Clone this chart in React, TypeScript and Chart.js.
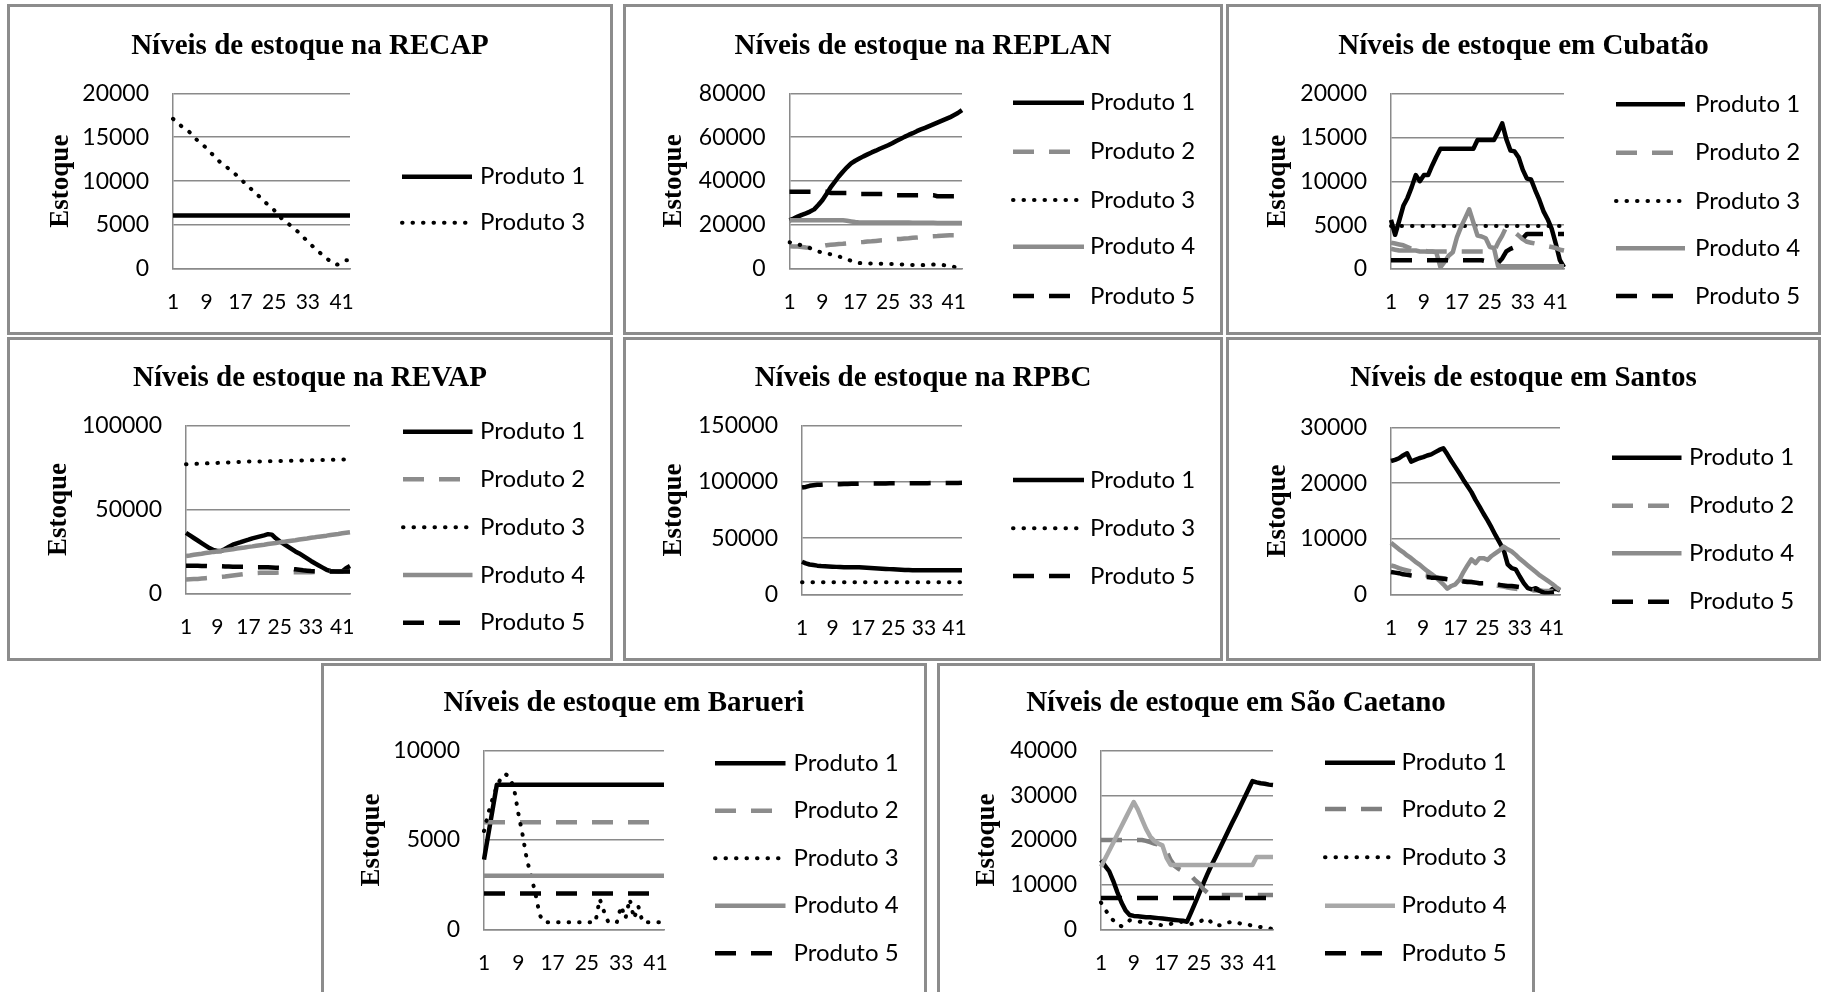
import React, { useEffect, useRef } from 'react';
import { Chart, registerables } from 'chart.js';

Chart.register(...registerables);

// ---------------- DATA ----------------
const periods = [
  '1', '2', '3', '4', '5', '6', '7', '8', '9', '10',
  '11', '12', '13', '14', '15', '16', '17', '18', '19', '20',
  '21', '22', '23', '24', '25', '26', '27', '28', '29', '30',
  '31', '32', '33', '34', '35', '36', '37', '38', '39', '40',
  '41', '42', '43',
];
const xTickLabels = ['1', '9', '17', '25', '33', '41'];

const panelTitles = [
  'Níveis de estoque na RECAP',
  'Níveis de estoque na REPLAN',
  'Níveis de estoque em Cubatão',
  'Níveis de estoque na REVAP',
  'Níveis de estoque na RPBC',
  'Níveis de estoque em Santos',
  'Níveis de estoque em Barueri',
  'Níveis de estoque em São Caetano',
];
const yAxisTitle = 'Estoque';
const yAxisMax = [20000, 80000, 20000, 100000, 150000, 30000, 10000, 40000];
const yAxisStep = [5000, 20000, 5000, 50000, 50000, 10000, 5000, 10000];

// RECAP
const recapProduto1 = [
  6100, 6100, 6100, 6100, 6100, 6100, 6100, 6100, 6100, 6100,
  6100, 6100, 6100, 6100, 6100, 6100, 6100, 6100, 6100, 6100,
  6100, 6100, 6100, 6100, 6100, 6100, 6100, 6100, 6100, 6100,
  6100, 6100, 6100, 6100, 6100, 6100, 6100, 6100, 6100, 6100,
  6100, 6100, 6100,
];
const recapProduto3 = [
  17100, 16700, 16250, 15900, 15550, 15000, 14550, 14200, 13700, 13200,
  12800, 12250, 11850, 11500, 11150, 10700, 10250, 9800, 9350, 8900,
  8450, 8050, 7550, 7150, 6700, 6100, 5650, 5300, 4900, 4500,
  4100, 3600, 3100, 2650, 2200, 1800, 1400, 1000, 600, 500,
  800, 1000, 1000,
];

// REPLAN
const replanProduto1 = [
  22000, 22800, 23700, 24500, 25200, 26000, 27000, 29000, 31200, 34000,
  37000, 39500, 42000, 44200, 46200, 48000, 49200, 50200, 51200, 52100,
  53000, 53800, 54700, 55500, 56300, 57200, 58200, 59100, 60100, 61000,
  61800, 62700, 63500, 64200, 65000, 65800, 66600, 67400, 68200, 69000,
  70000, 71000, 72300,
];
const replanProduto2 = [
  10200, 10100, 10000, 9800, 9600, 9500, 9500, 9800, 10200, 10600,
  10800, 11000, 11200, 11300, 11500, 11700, 11800, 12000, 12100, 12300,
  12400, 12600, 12800, 12900, 13100, 13200, 13400, 13500, 13700, 13800,
  14000, 14100, 14300, 14400, 14600, 14700, 14800, 15000, 15100, 15200,
  15200, 15300, 15300,
];
const replanProduto3 = [
  12000, 11500, 11000, 10600, 10000, 9300, 8500, 7800, 7200, 6800,
  6500, 6000, 5500, 5000, 4300, 3500, 2800, 2500, 2400, 2300,
  2300, 2200, 2200, 2100, 2000, 2000, 1950, 1900, 1800, 1700,
  1600, 1500, 1500, 1600, 1700, 1800, 1700, 1600, 1500, 1200,
  800, 300, 0,
];
const replanProduto4 = [
  22000, 22000, 22000, 22000, 22000, 22000, 22000, 22000, 22000, 22000,
  22000, 22000, 22000, 22000, 21800, 21500, 21200, 21000, 21000, 21000,
  21000, 21000, 21000, 21000, 21000, 21000, 21000, 21000, 21000, 21000,
  20900, 20900, 20900, 20900, 20900, 20900, 20800, 20800, 20800, 20800,
  20800, 20800, 20800,
];
const replanProduto5 = [
  35000, 35000, 35000, 35000, 35000, 35000, 35000, 35000, 35000, 35000,
  34500, 34500, 34500, 34500, 34500, 34000, 34000, 34000, 34000, 34000,
  34000, 34000, 34000, 34000, 34000, 34000, 33500, 33500, 33500, 33500,
  33500, 33500, 33500, 33500, 33500, 33500, 33000, 33000, 33000, 33000,
  33000, 33000, 33000,
];

// Cubatão
const cubataoProduto1 = [
  5600, 3900, 5500, 7200, 8100, 9300, 10700, 10000, 10700, 10700,
  11800, 12800, 13700, 13700, 13700, 13700, 13700, 13700, 13700, 13700,
  13700, 14700, 14700, 14700, 14700, 14700, 15600, 16600, 14800, 13500,
  13400, 12700, 11300, 10300, 10200, 9000, 7900, 6600, 5700, 4600,
  2900, 1000, 200,
];
const cubataoProduto2 = [
  3000, 2900, 2800, 2700, 2500, 2300, 2200, 2100, 2100, 2000,
  2000, 2000, 2000, 2000, 2000, 2000, 2000, 2000, 2000, 2000,
  2000, 2000, 2000, 2000, 2000, 2000, 3000, 3800, 4800, 4500,
  4200, 3800, 3400, 3100, 3000, 2900, 2800, 2700, 2600, 2500,
  2400, 2200, 2100,
];
const cubataoProduto3 = [
  4900, 4900, 4900, 4900, 4900, 4900, 4900, 4900, 4900, 4900,
  4900, 4900, 4900, 4900, 4900, 4900, 4900, 4900, 4900, 4900,
  4900, 4900, 4900, 4900, 4900, 4900, 4900, 4900, 4900, 4900,
  4900, 4900, 4900, 4900, 4900, 4900, 4900, 4900, 4900, 4900,
  4900, 4900, 4900,
];
const cubataoProduto4 = [
  2300, 2200, 2100, 2100, 2100, 2100, 2100, 2000, 2000, 2000,
  2000, 1900, 200, 800, 1500, 1900, 3600, 4800, 5800, 6800,
  5300, 3800, 3700, 3500, 2500, 2400, 300, 300, 300, 300,
  300, 300, 300, 300, 300, 300, 300, 300, 300, 300,
  300, 300, 300,
];
const cubataoProduto5 = [
  1000, 1000, 1000, 1000, 1000, 1000, 1000, 1000, 1000, 1000,
  1000, 1000, 1000, 1000, 1000, 1000, 1000, 1000, 1000, 1000,
  1000, 1000, 1000, 900, 800, 700, 700, 1200, 2000, 2300,
  2500, 3000, 3500, 4000, 4000, 4000, 4000, 4000, 4000, 4000,
  4000, 4000, 4000,
];

// REVAP
const revapProduto1 = [
  36000, 34500, 33000, 31500, 30000, 28500, 27000, 25800, 25300, 25300,
  26500, 27800, 29000, 29800, 30500, 31300, 32000, 32800, 33400, 34000,
  34600, 35300, 35000, 32800, 31000, 29500, 28000, 26500, 25000, 23800,
  22300, 20800, 19300, 17900, 16600, 15300, 14000, 13300, 13000, 12900,
  13000, 15000, 16300,
];
const revapProduto2 = [
  8300, 8400, 8500, 8600, 8800, 9000, 9200, 9400, 9600, 9800,
  10000, 10300, 10600, 10900, 11200, 11500, 11800, 12000, 12100, 12200,
  12300, 12300, 12300, 12300, 12400, 12400, 12400, 12500, 12500, 12500,
  12500, 12600, 12600, 12700, 12700, 12800, 12800, 12900, 12900, 13000,
  13000, 13000, 13000,
];
const revapProduto3 = [
  77000, 77100, 77200, 77300, 77400, 77500, 77600, 77700, 77800, 77900,
  78000, 78100, 78200, 78300, 78400, 78500, 78600, 78600, 78700, 78700,
  78800, 78800, 78900, 78900, 79000, 79000, 79100, 79100, 79200, 79200,
  79300, 79300, 79400, 79400, 79500, 79500, 79600, 79600, 79700, 79700,
  79800, 79800, 79900,
];
const revapProduto4 = [
  22300, 22600, 23000, 23300, 23600, 24000, 24300, 24700, 25000, 25300,
  25700, 26000, 26300, 26700, 27000, 27300, 27700, 28000, 28400, 28700,
  29000, 29400, 29700, 30000, 30400, 30700, 31100, 31400, 31700, 32100,
  32400, 32700, 33100, 33400, 33800, 34100, 34400, 34800, 35100, 35400,
  35800, 36100, 36400,
];
const revapProduto5 = [
  16500, 16500, 16400, 16400, 16300, 16300, 16200, 16200, 16100, 16100,
  16000, 16000, 15900, 15900, 15800, 15800, 15700, 15700, 15600, 15600,
  15500, 15500, 15400, 15300, 15200, 15000, 14800, 14600, 14300, 14000,
  13700, 13500, 13300, 13200, 13100, 13100, 13000, 13000, 13000, 13000,
  13000, 13000, 13000,
];

// RPBC
const rpbcProduto1 = [
  29000, 27500, 26500, 26000, 25500, 25200, 25000, 24800, 24600, 24400,
  24200, 24000, 24000, 24000, 24000, 24000, 23800, 23600, 23400, 23200,
  23000, 22800, 22600, 22400, 22200, 22000, 21800, 21600, 21600, 21500,
  21500, 21500, 21500, 21500, 21500, 21500, 21500, 21500, 21500, 21500,
  21500, 21500, 21500,
];
const rpbcProduto3 = [
  10700, 10700, 10700, 10700, 10700, 10700, 10700, 10700, 10700, 10700,
  10700, 10700, 10700, 10700, 10700, 10700, 10700, 10700, 10700, 10700,
  10700, 10700, 10700, 10700, 10700, 10700, 10700, 10700, 10700, 10700,
  10700, 10700, 10700, 10700, 10700, 10700, 10700, 10700, 10700, 10700,
  10700, 10700, 10700,
];
const rpbcProduto5 = [
  95000, 95500, 96500, 97000, 97500, 97500, 97800, 98000, 98000, 98000,
  98000, 98200, 98200, 98300, 98300, 98400, 98400, 98500, 98500, 98500,
  98600, 98600, 98600, 98700, 98700, 98700, 98800, 98800, 98800, 98800,
  98900, 98900, 98900, 98900, 99000, 99000, 99000, 99000, 99000, 99100,
  99100, 99100, 99200,
];

// Santos
const santosProduto1 = [
  24000, 24200, 24500, 25000, 25400, 23900, 24200, 24500, 24700, 25000,
  25200, 25600, 26000, 26300, 25200, 24000, 22900, 21800, 20600, 19500,
  18400, 17000, 15800, 14500, 13300, 12000, 10600, 9300, 8000, 5400,
  4700, 4500, 3200, 2000, 1100, 900, 1100, 700, 300, 200,
  900, 1000, 700,
];
const santosProduto2 = [
  5200, 5000, 4700, 4500, 4300, 4100, 3900, 3700, 3500, 3400,
  3200, 3100, 3000, 2900, 2800, 2700, 2600, 2500, 2400, 2300,
  2200, 2100, 2000, 1900, 1800, 1700, 1600, 1500, 1400, 1200,
  1100, 1000, 900, 800, 800, 700, 700, 700, 600, 600,
  600, 600, 600,
];
const santosProduto4 = [
  9300, 8700, 8100, 7600, 7000, 6500, 5900, 5400, 4800, 4200,
  3700, 3100, 2500, 1800, 1000, 1500, 1800, 2600, 4000, 5200,
  6300, 5600, 6500, 6500, 6200, 6900, 7400, 7900, 8600, 8100,
  7700, 7100, 6400, 5800, 5200, 4600, 4000, 3400, 2900, 2400,
  1900, 1300, 800,
];
const santosProduto5 = [
  4000, 3900, 3800, 3600, 3500, 3400, 3300, 3200, 3100, 3100,
  3000, 3000, 2900, 2800, 2700, 2600, 2500, 2400, 2300, 2200,
  2200, 2100, 2000, 2000, 1900, 1800, 1700, 1700, 1600, 1500,
  1500, 1400, 1300, 1200, 1100, 1000, 900, 600, 300, 200,
  300, 400, 500,
];

// Barueri
const barueriProduto1 = [
  3900, 5300, 6700, 8100, 8100, 8100, 8100, 8100, 8100, 8100,
  8100, 8100, 8100, 8100, 8100, 8100, 8100, 8100, 8100, 8100,
  8100, 8100, 8100, 8100, 8100, 8100, 8100, 8100, 8100, 8100,
  8100, 8100, 8100, 8100, 8100, 8100, 8100, 8100, 8100, 8100,
  8100, 8100, 8100,
];
const barueriProduto2 = [
  6000, 6000, 6000, 6000, 6000, 6000, 6000, 6000, 6000, 6000,
  6000, 6000, 6000, 6000, 6000, 6000, 6000, 6000, 6000, 6000,
  6000, 6000, 6000, 6000, 6000, 6000, 6000, 6000, 6000, 6000,
  6000, 6000, 6000, 6000, 6000, 6000, 6000, 6000, 6000, 6000,
  6000, 6000, 6000,
];
const barueriProduto3 = [
  5500, 6500, 7300, 8000, 8500, 8700, 8500, 7900, 6500, 5300,
  3900, 3000, 2000, 800, 400, 400, 400, 400, 400, 400,
  400, 400, 400, 400, 400, 400, 400, 1700, 1000, 400,
  400, 400, 1300, 600, 1700, 600, 1300, 400, 400, 400,
  400, 400, 400,
];
const barueriProduto4 = [
  3000, 3000, 3000, 3000, 3000, 3000, 3000, 3000, 3000, 3000,
  3000, 3000, 3000, 3000, 3000, 3000, 3000, 3000, 3000, 3000,
  3000, 3000, 3000, 3000, 3000, 3000, 3000, 3000, 3000, 3000,
  3000, 3000, 3000, 3000, 3000, 3000, 3000, 3000, 3000, 3000,
  3000, 3000, 3000,
];
const barueriProduto5 = [
  2000, 2000, 2000, 2000, 2000, 2000, 2000, 2000, 2000, 2000,
  2000, 2000, 2000, 2000, 2000, 2000, 2000, 2000, 2000, 2000,
  2000, 2000, 2000, 2000, 2000, 2000, 2000, 2000, 2000, 2000,
  2000, 2000, 2000, 2000, 2000, 2000, 2000, 2000, 2000, 2000,
  2000, 2000, 2000,
];

// São Caetano
const saoCaetanoProduto1 = [
  15500, 14200, 13000, 10800, 8300, 6000, 4200, 3200, 3000, 2900,
  2800, 2700, 2700, 2600, 2500, 2400, 2300, 2200, 2100, 2000,
  1900, 1700, 3800, 5900, 8100, 10300, 12400, 14400, 16200, 18100,
  20000, 21900, 23800, 25600, 27500, 29400, 31300, 33200, 32900, 32700,
  32600, 32400, 32300,
];
const saoCaetanoProduto2 = [
  20000, 20000, 20000, 20000, 20000, 20000, 20000, 20000, 20000, 20000,
  20000, 19800, 19500, 19200, 19000, 18800, 17500, 15500, 14200, 13500,
  13000, 12800, 12000, 11000, 10200, 9000, 8200, 7800, 7700, 7700,
  7700, 7700, 7700, 7700, 7700, 7700, 7700, 7700, 7700, 7700,
  7700, 7700, 7700,
];
const saoCaetanoProduto3 = [
  6000, 4500, 3000, 2000, 1000, 700, 1200, 2000, 2000, 1800,
  1600, 1500, 1400, 1200, 1000, 900, 1000, 1200, 1400, 1600,
  1700, 1500, 1200, 1300, 1700, 2100, 2400, 1500, 800, 900,
  1200, 1500, 1700, 1500, 1300, 1100, 1000, 800, 700, 500,
  300, 200, 100,
];
const saoCaetanoProduto4 = [
  14000, 15800, 17600, 19400, 21300, 23100, 24900, 26700, 28500, 26800,
  24600, 22500, 20800, 19800, 19200, 18800, 16000, 14400, 14400, 14400,
  14400, 14400, 14400, 14400, 14400, 14400, 14400, 14400, 14400, 14400,
  14400, 14400, 14400, 14400, 14400, 14400, 14400, 14400, 16200, 16200,
  16200, 16200, 16200,
];
const saoCaetanoProduto5 = [
  7000, 7000, 7000, 7000, 7000, 7000, 7000, 7000, 7000, 7000,
  7000, 7000, 7000, 7000, 7000, 7000, 7000, 7000, 7000, 7000,
  7000, 7000, 7000, 7000, 7000, 7000, 7000, 7000, 7000, 7000,
  7000, 7000, 7000, 7000, 7000, 7000, 7000, 7000, 7000, 7000,
  7000, 7000, 7000,
];

// ---------------- STYLES / LAYOUT ----------------
type LineStyle = { color: string; dash: number[]; cap: CanvasLineCap; width: number };
const STYLES: Record<string, LineStyle> = {
  p1: { color: '#000000', dash: [], cap: 'butt', width: 4.5 },
  p2: { color: '#8c8c8c', dash: [21, 15], cap: 'butt', width: 4.5 },
  p3: { color: '#000000', dash: [0.5, 10], cap: 'round', width: 4 },
  p4: { color: '#8c8c8c', dash: [], cap: 'butt', width: 4.5 },
  p5: { color: '#000000', dash: [21, 15], cap: 'butt', width: 4.5 },
  p2dark: { color: '#7f7f7f', dash: [21, 15], cap: 'butt', width: 4.5 },
  p4light: { color: '#a8a8a8', dash: [], cap: 'butt', width: 4.5 },
};

type SeriesDef = [string, number[], string];
interface PanelSpec {
  idx: number;
  box: [number, number, number, number];
  plot: [number, number, number, number];
  titleY: number;
  yLabelX: number;
  legend: { x1: number; x2: number; tx: number; ys: number[] };
  series: SeriesDef[];
}

const PANELS: PanelSpec[] = [
  {
    idx: 0, box: [7, 4, 606, 331], plot: [173, 93.3, 350, 269], titleY: 54, yLabelX: 61,
    legend: { x1: 402, x2: 472, tx: 480, ys: [176.7, 222.7] },
    series: [['Produto 1', recapProduto1, 'p1'], ['Produto 3', recapProduto3, 'p3']],
  },
  {
    idx: 1, box: [623, 4, 600, 331], plot: [789.5, 93.3, 962, 268.5], titleY: 54, yLabelX: 674.5,
    legend: { x1: 1013, x2: 1084, tx: 1090, ys: [102.7, 151.7, 200, 246.7, 296] },
    series: [
      ['Produto 1', replanProduto1, 'p1'], ['Produto 2', replanProduto2, 'p2'],
      ['Produto 3', replanProduto3, 'p3'], ['Produto 4', replanProduto4, 'p4'],
      ['Produto 5', replanProduto5, 'p5'],
    ],
  },
  {
    idx: 2, box: [1226, 4, 595, 331], plot: [1391, 93.5, 1564, 269], titleY: 54, yLabelX: 1278.5,
    legend: { x1: 1616, x2: 1685, tx: 1695, ys: [104.3, 152.7, 201, 248.3, 296] },
    series: [
      ['Produto 1', cubataoProduto1, 'p1'], ['Produto 2', cubataoProduto2, 'p2'],
      ['Produto 3', cubataoProduto3, 'p3'], ['Produto 4', cubataoProduto4, 'p4'],
      ['Produto 5', cubataoProduto5, 'p5'],
    ],
  },
  {
    idx: 3, box: [7, 337, 606, 324], plot: [186, 425.7, 350, 593.3], titleY: 386, yLabelX: 59.5,
    legend: { x1: 403, x2: 472.5, tx: 480, ys: [431.7, 479.3, 527.3, 575, 622.7] },
    series: [
      ['Produto 1', revapProduto1, 'p1'], ['Produto 2', revapProduto2, 'p2'],
      ['Produto 3', revapProduto3, 'p3'], ['Produto 4', revapProduto4, 'p4'],
      ['Produto 5', revapProduto5, 'p5'],
    ],
  },
  {
    idx: 4, box: [623, 337, 600, 324], plot: [802, 425.7, 962, 594.3], titleY: 386, yLabelX: 674.5,
    legend: { x1: 1013, x2: 1084, tx: 1090, ys: [480, 528.3, 576] },
    series: [
      ['Produto 1', rpbcProduto1, 'p1'], ['Produto 3', rpbcProduto3, 'p3'],
      ['Produto 5', rpbcProduto5, 'p5'],
    ],
  },
  {
    idx: 5, box: [1226, 337, 595, 324], plot: [1391, 427.7, 1560, 594.3], titleY: 386, yLabelX: 1278.5,
    legend: { x1: 1612, x2: 1681.5, tx: 1689, ys: [457.7, 505.7, 553.3, 601.7] },
    series: [
      ['Produto 1', santosProduto1, 'p1'], ['Produto 2', santosProduto2, 'p2'],
      ['Produto 4', santosProduto4, 'p4'], ['Produto 5', santosProduto5, 'p5'],
    ],
  },
  {
    idx: 6, box: [321, 663, 606, 345], plot: [484, 750.7, 664, 929.3], titleY: 711, yLabelX: 372,
    legend: { x1: 715, x2: 785.5, tx: 793.5, ys: [763.3, 810.7, 858.3, 905.7, 953.3] },
    series: [
      ['Produto 1', barueriProduto1, 'p1'], ['Produto 2', barueriProduto2, 'p2'],
      ['Produto 3', barueriProduto3, 'p3'], ['Produto 4', barueriProduto4, 'p4'],
      ['Produto 5', barueriProduto5, 'p5'],
    ],
  },
  {
    idx: 7, box: [937, 663, 598, 345], plot: [1101, 750.7, 1273, 929.3], titleY: 711, yLabelX: 987,
    legend: { x1: 1325, x2: 1395, tx: 1401.5, ys: [762.7, 809, 857.3, 905.7, 953.3] },
    series: [
      ['Produto 1', saoCaetanoProduto1, 'p1'], ['Produto 2', saoCaetanoProduto2, 'p2dark'],
      ['Produto 3', saoCaetanoProduto3, 'p3'], ['Produto 4', saoCaetanoProduto4, 'p4light'],
      ['Produto 5', saoCaetanoProduto5, 'p5'],
    ],
  },
];

const GRID = '#8a8a8a';
const SANS = 'Lato, "Open Sans", sans-serif';
const SERIF = '"Liberation Serif", "Times New Roman", serif';

const decorPlugin = {
  id: 'panelDecor',
  afterDraw(chart: any, _args: any, opts: any) {
    const ctx: CanvasRenderingContext2D = chart.ctx;
    const ca = chart.chartArea;
    ctx.save();
    ctx.fillStyle = '#000';
    ctx.font = `bold 29px ${SERIF}`;
    ctx.textAlign = 'center';
    ctx.textBaseline = 'alphabetic';
    ctx.fillText(opts.title, opts.titleX, opts.titleY);

    ctx.save();
    ctx.translate(opts.yLabelX, (ca.top + ca.bottom) / 2);
    ctx.rotate(-Math.PI / 2);
    ctx.font = `bold 27px ${SERIF}`;
    ctx.textAlign = 'center';
    ctx.textBaseline = 'middle';
    ctx.fillText(opts.yLabel, 0, 0);
    ctx.restore();

    const lg = opts.legend;
    chart.data.datasets.forEach((ds: any, i: number) => {
      const y = lg.ys[i];
      ctx.save();
      ctx.strokeStyle = ds.borderColor;
      ctx.lineWidth = ds.borderWidth;
      ctx.lineCap = ds.borderCapStyle;
      ctx.setLineDash(ds.borderDash || []);
      ctx.beginPath();
      ctx.moveTo(lg.x1, y);
      ctx.lineTo(lg.x2, y);
      ctx.stroke();
      ctx.restore();
      ctx.fillStyle = '#000';
      ctx.font = `24px ${SANS}`;
      ctx.textAlign = 'left';
      ctx.textBaseline = 'middle';
      ctx.fillText(ds.label, lg.tx, y);
    });
    ctx.restore();
  },
};

function Panel({ spec }: { spec: PanelSpec }) {
  const ref = useRef<HTMLCanvasElement>(null);
  const [bl, bt, bw, bh] = spec.box;
  useEffect(() => {
    const [L, T, R, B] = spec.plot;
    const yAxisW = 130;
    const xAxisH = 50;
    const n = spec.series.length;
    const chart = new Chart(ref.current as HTMLCanvasElement, {
      type: 'line',
      data: {
        labels: periods,
        datasets: spec.series.map(([name, values, styleKey], i) => {
          const st = STYLES[styleKey];
          return {
            label: name,
            data: values,
            borderColor: st.color,
            backgroundColor: st.color,
            borderWidth: st.width,
            borderDash: st.dash,
            borderCapStyle: st.cap,
            borderJoinStyle: 'round',
            pointRadius: 0,
            pointHoverRadius: 0,
            tension: 0,
            fill: false,
            order: n - i,
          };
        }),
      },
      options: {
        animation: false,
        responsive: false,
        maintainAspectRatio: false,
        devicePixelRatio: 1,
        events: [],
        layout: {
          padding: {
            left: L - bl - yAxisW,
            top: T - bt,
            right: bl + bw - R,
            bottom: bt + bh - B - xAxisH,
          },
        },
        plugins: {
          legend: { display: false },
          title: { display: false },
          tooltip: { enabled: false },
          panelDecor: {
            title: panelTitles[spec.idx],
            titleX: bw / 2,
            titleY: spec.titleY - bt,
            yLabel: yAxisTitle,
            yLabelX: spec.yLabelX - bl,
            legend: {
              x1: spec.legend.x1 - bl,
              x2: spec.legend.x2 - bl,
              tx: spec.legend.tx - bl,
              ys: spec.legend.ys.map((y) => y - bt),
            },
          },
        } as any,
        scales: {
          x: {
            type: 'category',
            offset: false,
            grid: { display: false, drawTicks: false },
            border: { display: true, color: GRID, width: 1.5 },
            ticks: {
              autoSkip: false,
              maxRotation: 0,
              minRotation: 0,
              padding: 21,
              color: '#000',
              font: { family: SANS, size: 21 },
              callback: (_v: any, index: number) =>
                xTickLabels.includes(periods[index]) ? periods[index] : '',
            },
            afterFit: (s: any) => {
              s.height = xAxisH;
            },
          },
          y: {
            min: 0,
            max: yAxisMax[spec.idx],
            grid: { color: GRID, lineWidth: 1.5, drawTicks: false },
            border: { display: true, color: GRID, width: 1.5 },
            ticks: {
              stepSize: yAxisStep[spec.idx],
              padding: 24,
              color: '#000',
              font: { family: SANS, size: 23 },
              callback: (v: any) => String(v),
            },
            afterFit: (s: any) => {
              s.width = yAxisW;
            },
          },
        },
      } as any,
      plugins: [decorPlugin],
    });
    return () => chart.destroy();
  }, []);
  return (
    <>
      <div
        style={{
          position: 'absolute', left: bl, top: bt, width: bw, height: bh,
          boxSizing: 'border-box', border: '3px solid #8c8c8c', background: '#fff',
        }}
      />
      <canvas
        ref={ref}
        width={bw}
        height={bh}
        style={{ position: 'absolute', left: bl, top: bt, width: bw, height: bh }}
      />
    </>
  );
}

export default function App() {
  useEffect(() => {
    document.body.style.overflow = 'hidden';
  }, []);
  return (
    <div
      style={{
        position: 'absolute', left: 0, top: 0, width: 1823, height: 992,
        overflow: 'hidden', background: '#fff',
      }}
    >
      {PANELS.map((p) => (
        <Panel key={p.idx} spec={p} />
      ))}
    </div>
  );
}
